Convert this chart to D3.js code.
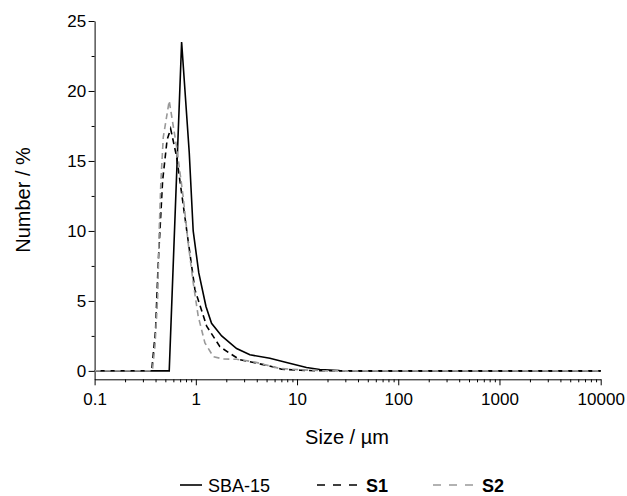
<!DOCTYPE html>
<html>
<head>
<meta charset="utf-8">
<script src="https://cdn.jsdelivr.net/npm/d3@7"></script>
<style>
  body { margin: 0; background: #fff; }
  text { font-family: "Liberation Sans", Arial, sans-serif; fill: #000; }
  .axis path, .axis line { stroke: #000; stroke-width: 1; }
</style>
</head>
<body>
<svg width="627" height="496"></svg>
<script>
// size (um) / number (%)
var sbaSize = [0.1, 0.2, 0.4, 0.546, 0.724, 0.861, 0.942, 1.07, 1.26, 1.43, 1.8, 2.53, 3.42, 5.39, 7.87, 12.4, 16.8, 26.3, 40, 100, 1000, 10000];
var sbaNum  = [0, 0, 0, 0, 23.5, 15.6, 10.0, 7.0, 4.6, 3.4, 2.5, 1.6, 1.15, 0.9, 0.6, 0.24, 0.1, 0.03, 0, 0, 0, 0];

var s1Size = [0.1, 0.2, 0.366, 0.40, 0.425, 0.47, 0.52, 0.564, 0.646, 0.811, 0.98, 1.28, 1.73, 2.17, 2.72, 5.0, 7.03, 10.7, 16, 30, 100, 1000, 10000];
var s1Num  = [0, 0, 0, 2.9, 7.7, 13.6, 16.5, 17.3, 15.3, 10.1, 5.8, 3.2, 1.73, 1.25, 0.8, 0.4, 0.12, 0.05, 0.01, 0, 0, 0, 0];

var s2Size = [0.1, 0.2, 0.372, 0.395, 0.42, 0.435, 0.452, 0.477, 0.546, 0.646, 0.751, 0.842, 0.942, 1.056, 1.23, 1.49, 1.86, 2.53, 3.69, 4.62, 6.76, 11.5, 20, 100, 1000, 10000];
var s2Num  = [0, 0, 0, 1.8, 5.3, 10.1, 13.6, 16.7, 19.3, 16.0, 12.4, 9.1, 6.3, 3.9, 2.0, 1.02, 0.85, 0.83, 0.66, 0.48, 0.17, 0.07, 0, 0, 0, 0];

var xTicks = [0.1, 1, 10, 100, 1000, 10000];
var xTickLabels = ["0.1", "1", "10", "100", "1000", "10000"];
var yTicks = [0, 5, 10, 15, 20, 25];

var series = [
  {name: "SBA-15", size: sbaSize, num: sbaNum, color: "#000", dash: null, bold: false},
  {name: "S1", size: s1Size, num: s1Num, color: "#000", dash: "6,4", bold: true},
  {name: "S2", size: s2Size, num: s2Num, color: "#999", dash: "6,4", bold: true}
];

var svg = d3.select("svg");

var x = d3.scaleLog().domain([0.1, 10000]).range([94.6, 600.7]);
var y = d3.scaleLinear().domain([-0.6, 25]).range([379.3, 21]);

var minorX = [];
for (var e = -1; e < 4; e++) {
  for (var k = 2; k < 10; k++) minorX.push(k * Math.pow(10, e));
}
var minorY = [2.5, 7.5, 12.5, 17.5, 22.5];

// minor ticks
svg.append("g")
    .attr("class", "axis")
    .attr("transform", "translate(0," + y.range()[0] + ")")
    .call(d3.axisBottom(x).tickValues(minorX).tickSize(3).tickSizeOuter(0).tickFormat(""))
    .call(function(g) { g.select(".domain").remove(); });

svg.append("g")
    .attr("class", "axis")
    .attr("transform", "translate(" + x.range()[0] + ",0)")
    .call(d3.axisLeft(y).tickValues(minorY).tickSize(3).tickSizeOuter(0).tickFormat(""))
    .call(function(g) { g.select(".domain").remove(); });

// major axes
var xAxis = svg.append("g")
    .attr("class", "axis")
    .attr("transform", "translate(0," + y.range()[0] + ")")
    .call(d3.axisBottom(x).tickValues(xTicks).tickSize(6).tickSizeOuter(0)
      .tickFormat(function(d, i) { return xTickLabels[i]; }));
xAxis.selectAll("text")
    .attr("dy", null)
    .attr("y", 26)
    .style("font-size", "17px");

var yAxis = svg.append("g")
    .attr("class", "axis")
    .attr("transform", "translate(" + x.range()[0] + ",0)")
    .call(d3.axisLeft(y).tickValues(yTicks).tickSize(6).tickSizeOuter(0));
yAxis.selectAll("text")
    .attr("x", -8.5)
    .style("font-size", "17px");

svg.selectAll(".axis text").attr("fill", "#000");

// curves
var line = d3.line()
    .x(function(d) { return x(d[0]); })
    .y(function(d) { return y(d[1]); });

svg.selectAll(".curve")
  .data(series)
  .enter().append("path")
    .attr("class", "curve")
    .attr("fill", "none")
    .attr("stroke", function(d) { return d.color; })
    .attr("stroke-width", 1.6)
    .attr("stroke-dasharray", function(d) { return d.dash; })
    .attr("d", function(d) { return line(d3.zip(d.size, d.num)); });

// axis titles
svg.append("text")
    .attr("x", 347)
    .attr("y", 444)
    .attr("text-anchor", "middle")
    .style("font-size", "20px")
    .text("Size / \u00b5m");

svg.append("text")
    .attr("transform", "translate(30,200) rotate(-90)")
    .attr("text-anchor", "middle")
    .style("font-size", "20px")
    .text("Number / %");

// legend
var legX = [180, 317, 433];
var legend = svg.selectAll(".legend")
  .data(series)
  .enter().append("g")
    .attr("class", "legend")
    .attr("transform", function(d, i) { return "translate(" + legX[i] + ",485)"; });

legend.append("line")
    .attr("x1", 0)
    .attr("x2", function(d) { return d.dash ? 40 : 22; })
    .attr("stroke", function(d) { return d.color; })
    .attr("stroke-width", 1.6)
    .attr("stroke-dasharray", function(d) { return d.dash ? "8,8" : null; });

legend.append("text")
    .attr("x", function(d) { return d.dash ? 49 : 28; })
    .attr("y", 6.5)
    .style("font-size", "18px")
    .style("font-weight", function(d) { return d.bold ? "bold" : "normal"; })
    .text(function(d) { return d.name; });
</script>
</body>
</html>
